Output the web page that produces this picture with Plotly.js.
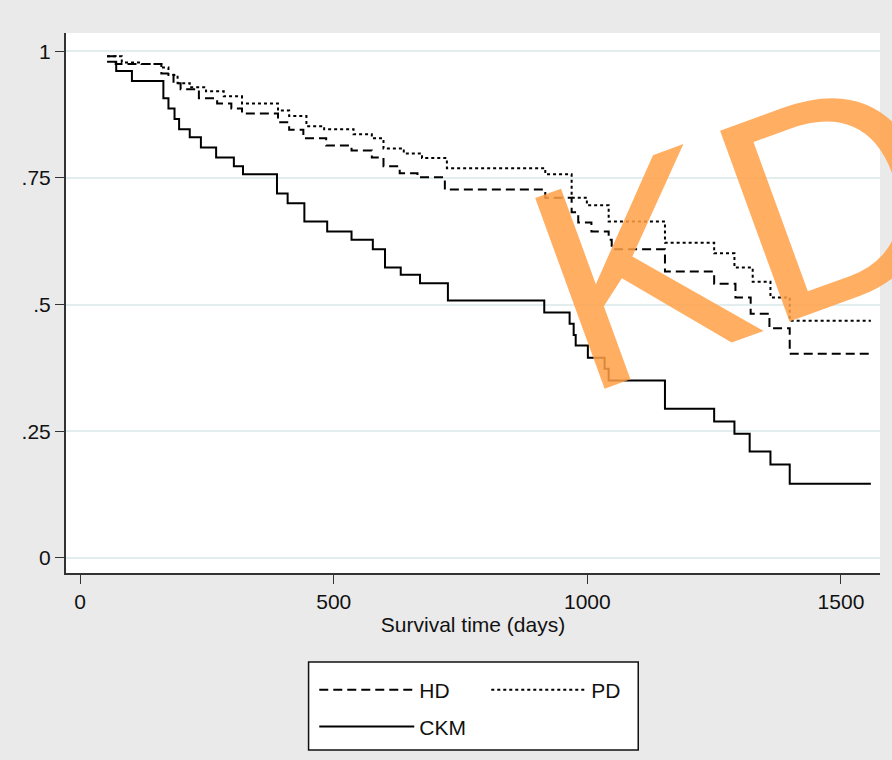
<!DOCTYPE html>
<html>
<head>
<meta charset="utf-8">
<script src="https://cdn.plot.ly/plotly-3.0.1.min.js"></script>
<style>body{margin:0;background:#fff}</style>
</head>
<body>
<div id="km_plot" style="width:892px;height:760px"></div>
<script>
// Kaplan-Meier 生存曲線 (days)
const hd_days = [53,70,160,184,198,234,270,298,319,390,412,440,485,535,575,598,630,665,719,917,969,982,1008,1042,1048,1153,1250,1292,1322,1359,1399,1559];
const hd_surv = [0.99,0.975,0.956,0.937,0.925,0.907,0.897,0.887,0.877,0.86,0.845,0.828,0.814,0.804,0.79,0.773,0.759,0.751,0.727,0.711,0.682,0.662,0.644,0.628,0.609,0.565,0.541,0.514,0.482,0.453,0.403,0.403];

const pd_days = [53,82,121,160,174,192,216,248,283,319,390,412,446,481,539,575,598,638,674,723,917,969,999,1042,1153,1250,1290,1326,1361,1399,1559];
const pd_surv = [0.99,0.978,0.975,0.968,0.953,0.937,0.929,0.921,0.911,0.897,0.883,0.872,0.852,0.846,0.836,0.828,0.808,0.798,0.789,0.769,0.757,0.711,0.696,0.664,0.622,0.601,0.573,0.545,0.514,0.468,0.468];

const ckm_days = [53,71,102,164,174,186,195,216,238,268,303,321,388,409,442,487,535,577,601,632,670,725,915,965,973,977,1001,1034,1042,1153,1250,1290,1320,1361,1399,1559];
const ckm_surv = [0.979,0.961,0.941,0.907,0.887,0.866,0.846,0.830,0.81,0.79,0.773,0.757,0.719,0.70,0.664,0.644,0.628,0.609,0.573,0.559,0.542,0.508,0.484,0.462,0.44,0.419,0.395,0.373,0.35,0.294,0.269,0.245,0.21,0.184,0.146,0.146];

const y_ticks = [0, 0.25, 0.5, 0.75, 1];
const y_labels = ['0', '.25', '.5', '.75', '1'];
const x_ticks = [0, 500, 1000, 1500];

const font_name = 'Liberation Sans Narrow, Liberation Sans, Arial, sans-serif';

var data = [
  { x: hd_days, y: hd_surv, name: 'HD', mode: 'lines', line: { shape: 'hv', color: '#000', width: 2, dash: '9px,5px' }, legend: 'legend' },
  { x: pd_days, y: pd_surv, name: 'PD', mode: 'lines', line: { shape: 'hv', color: '#000', width: 2, dash: '3px,3px' }, legend: 'legend' },
  { x: ckm_days, y: ckm_surv, name: 'CKM', mode: 'lines', line: { shape: 'hv', color: '#000', width: 2 }, legend: 'legend2' }
];

var layout = {
  width: 892,
  height: 760,
  paper_bgcolor: '#eaeaea',
  plot_bgcolor: '#ffffff',
  font: { family: font_name, size: 21, color: '#111' },
  margin: { l: 66, r: 12, t: 33, b: 187, pad: 0, autoexpand: false },
  xaxis: {
    range: [-28, 1577],
    tickvals: x_ticks,
    ticks: 'outside', ticklen: 9, tickcolor: '#333',
    showgrid: false, zeroline: false, automargin: false,
    showline: true, linecolor: '#333', linewidth: 2,
    title: { text: 'Survival time (days)', standoff: 0, font: { size: 21 } }
  },
  yaxis: {
    range: [-0.03, 1.036],
    tickvals: y_ticks, ticktext: y_labels,
    ticks: 'outside', ticklen: 9, tickcolor: '#333',
    showgrid: true, gridcolor: '#e2eeee', gridwidth: 2, zeroline: false, automargin: false,
    showline: true, linecolor: '#333', linewidth: 2
  },
  showlegend: true,
  legend: {
    orientation: 'h', x: 0.305, xanchor: 'left', y: -0.217, yanchor: 'middle',
    bgcolor: 'rgba(0,0,0,0)', entrywidth: 62, itemwidth: 95,
    font: { size: 21 }
  },
  legend2: {
    orientation: 'h', x: 0.305, xanchor: 'left', y: -0.285, yanchor: 'middle',
    bgcolor: 'rgba(0,0,0,0)', itemwidth: 95,
    font: { size: 21 }
  },
  shapes: [
    { type: 'rect', xref: 'paper', yref: 'paper', x0: 0.298, x1: 0.703, y0: -0.328, y1: -0.165,
      line: { color: '#111', width: 1.5 }, fillcolor: '#ffffff', layer: 'below' }
  ],
  annotations: [
    { text: 'KDI', xref: 'paper', yref: 'paper', x: 0.875, y: 0.66, xanchor: 'center', yanchor: 'middle',
      showarrow: false, textangle: -20, font: { family: 'Liberation Sans, Arial, sans-serif', size: 295, color: 'rgba(255,160,70,0.85)' } }
  ]
};

var config = { staticPlot: true, displayModeBar: false };

Plotly.newPlot('km_plot', data, layout, config);
</script>
</body>
</html>
